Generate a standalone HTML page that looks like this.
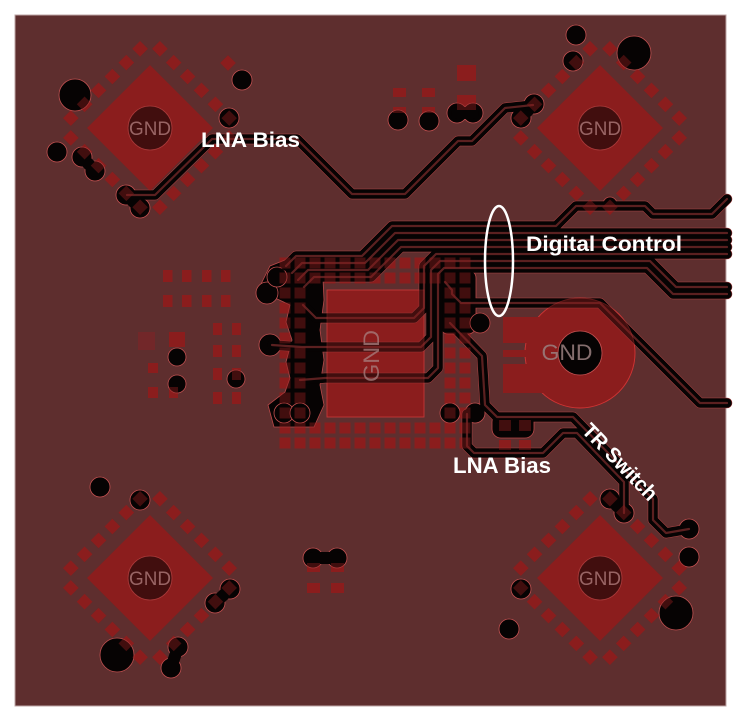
<!DOCTYPE html>
<html><head><meta charset="utf-8"><style>
html,body{margin:0;padding:0;background:#fff;}
svg{display:block;}
text{font-family:"Liberation Sans",Arial,sans-serif;}
</style></head><body>
<svg width="742" height="722" viewBox="0 0 742 722" xmlns="http://www.w3.org/2000/svg">
<defs>
<pattern id="grid" patternUnits="userSpaceOnUse" x="279.5" y="257.5" width="15" height="15"><rect width="11" height="11" fill="#8c1e1e"/></pattern>
<g id="qfn" transform="rotate(45)">
<rect x="-44.5" y="-44.5" width="89" height="89"/>
<rect x="-54.5" y="-68.5" width="11" height="11"/><rect x="-35" y="-68.5" width="11" height="11"/><rect x="-15.3" y="-68.5" width="11" height="11"/><rect x="4.3" y="-68.5" width="11" height="11"/><rect x="24" y="-68.5" width="11" height="11"/><rect x="43.5" y="-68.5" width="11" height="11"/>
<rect x="-54.5" y="57.5" width="11" height="11"/><rect x="-35" y="57.5" width="11" height="11"/><rect x="-15.3" y="57.5" width="11" height="11"/><rect x="4.3" y="57.5" width="11" height="11"/><rect x="24" y="57.5" width="11" height="11"/><rect x="43.5" y="57.5" width="11" height="11"/>
<rect y="-54.5" x="-68.5" width="11" height="11"/><rect y="-35" x="-68.5" width="11" height="11"/><rect y="-15.3" x="-68.5" width="11" height="11"/><rect y="4.3" x="-68.5" width="11" height="11"/><rect y="24" x="-68.5" width="11" height="11"/><rect y="43.5" x="-68.5" width="11" height="11"/>
<rect y="-54.5" x="57.5" width="11" height="11"/><rect y="-35" x="57.5" width="11" height="11"/><rect y="-15.3" x="57.5" width="11" height="11"/><rect y="4.3" x="57.5" width="11" height="11"/><rect y="24" x="57.5" width="11" height="11"/><rect y="43.5" x="57.5" width="11" height="11"/>
</g>
<g id="padsG" fill="#8c1e1e">
<use href="#qfn" transform="translate(150,128)"/>
<use href="#qfn" transform="translate(600,128)"/>
<use href="#qfn" transform="translate(150,578)"/>
<use href="#qfn" transform="translate(600,578)"/>
<rect x="-5.5" y="-5.5" width="11" height="11" transform="translate(228,63) rotate(45)"/>
<path d="M279.5,257.5h195v195h-195z M309.5,287.5h135v135h-135z" fill-rule="evenodd" fill="url(#grid)"/>
<rect x="327" y="290" width="97" height="127" stroke="#c83a3a" stroke-width="0.8"/>
<circle cx="580" cy="353" r="55" stroke="#d03535" stroke-width="0.9"/>
<rect x="503" y="317" width="60" height="26"/>
<rect x="503" y="364" width="60" height="29"/>
<rect x="503" y="350" width="32" height="7"/>
<rect x="163" y="270" width="9.5" height="12"/><rect x="182" y="270" width="9.5" height="12"/><rect x="202" y="270" width="9.5" height="12"/><rect x="221" y="270" width="9.5" height="12"/>
<rect x="163" y="295" width="9.5" height="12"/><rect x="182" y="295" width="9.5" height="12"/><rect x="202" y="295" width="9.5" height="12"/><rect x="221" y="295" width="9.5" height="12"/>
<rect x="138" y="332" width="17" height="18" fill="#72282a"/>
<rect x="169" y="332" width="16" height="15"/>
<rect x="148" y="363" width="10" height="10"/><rect x="148" y="387" width="10" height="11"/><rect x="169" y="387" width="9" height="11"/>
<rect x="213" y="323" width="9" height="12"/><rect x="232" y="323" width="9" height="12"/>
<rect x="213" y="345" width="9" height="12"/><rect x="232" y="345" width="9" height="12"/>
<rect x="213" y="368" width="9" height="12"/><rect x="232" y="368" width="9" height="12"/>
<rect x="213" y="392" width="9" height="12"/><rect x="232" y="392" width="9" height="12"/>
<rect x="393" y="88" width="13" height="9"/><rect x="422" y="88" width="13" height="9"/>
<rect x="393" y="107" width="13" height="6"/><rect x="422" y="107" width="13" height="6"/>
<rect x="457" y="65" width="19" height="16"/><rect x="457" y="95" width="19" height="15"/>
<rect x="307" y="563" width="13" height="9"/><rect x="331" y="563" width="13" height="9"/>
<rect x="307" y="583" width="13" height="10"/><rect x="331" y="583" width="13" height="10"/>
<rect x="499" y="420" width="12" height="11"/><rect x="519" y="420" width="12" height="11"/>
<rect x="499" y="440" width="12" height="10"/><rect x="519" y="440" width="12" height="10"/>
</g>
<g id="traces">
<path d="M127,195 L155,195 L212,139 L297,139 L352,194 L405,194 L458,141 L472,141 L505,108 L533,105"/>
<path d="M624,513 L624,482 L577,433 L563,433 L543,453 L474,453 L467,446 L467,414"/>
<path d="M450,323 L482,356 L485,405 L497,417 L573,417 L653,499 L653,520 L666,533 L689,529"/>
<path d="M445,282 L452,290 L452,294 L461,303 L600,303 L700,403 L727,403"/>
<path d="M286,266 L296,256 L362,256 L392,226 L556,226 L576,206 L645,206 L653,214 L712,214 L727,199"/>
<path d="M292,273 L302,263 L365,263 L395,233 L727,233"/>
<path d="M298,280 L308,270 L368,270 L398,240 L727,240"/>
<path d="M304,287 L314,277 L371,277 L401,247 L727,247"/>
<path d="M303,305 L316,318 L414,318 L424,308 L424,266 L436,254 L727,254"/>
<path d="M272,345 L302,347 L421,347 L431,337 L431,270 L440,261 L650,261 L676,287 L727,287"/>
<path d="M300,380 L325,378 L428,378 L438,368 L438,274 L444,268 L647,268 L673,294 L727,294"/>
</g>
</defs>

<rect x="15" y="15" width="711" height="691" fill="#5e2e2e" stroke="#bda5a5" stroke-width="1"/>

<use href="#padsG"/>

<use href="#traces" fill="none" stroke="#b04444" stroke-width="10.6" stroke-linejoin="round" stroke-linecap="round"/>

<g fill="#060303" stroke="#b84848" stroke-width="0.8">
<path d="M258,290 L270,266 L300,254 L322,258 L324,300 L320,330 L324,360 L320,385 L324,405 L314,427 L274,427 L268,405 L285,392 L290,378 L286,362 L292,340 L286,322 L290,305 Z"/>
<rect x="440" y="270" width="36" height="64" rx="8"/>
<circle cx="480" cy="323" r="10"/>
<rect x="492" y="413" width="42" height="25" rx="9"/>
<circle cx="610" cy="204" r="7"/>
</g>

<g fill="#060303" stroke="#c25050" stroke-width="0.8">
<circle cx="75" cy="95" r="16"/><circle cx="57" cy="152" r="10"/><circle cx="82" cy="157" r="10"/><circle cx="95" cy="171" r="10"/>
<circle cx="242" cy="80" r="10"/><circle cx="229" cy="118" r="10"/><circle cx="126" cy="195" r="10"/><circle cx="140" cy="208" r="10"/>
<circle cx="576" cy="35" r="10"/><circle cx="573" cy="61" r="10"/><circle cx="634" cy="53" r="17"/><circle cx="534" cy="104" r="10"/><circle cx="521" cy="118" r="10"/>
<circle cx="398" cy="120" r="10"/><circle cx="429" cy="121" r="10"/><circle cx="457" cy="113" r="10"/><circle cx="473" cy="113" r="10"/>
<circle cx="100" cy="487" r="10"/><circle cx="140" cy="500" r="10"/><circle cx="230" cy="589" r="10"/><circle cx="215" cy="603" r="10"/>
<circle cx="117" cy="655" r="17"/><circle cx="178" cy="647" r="10"/><circle cx="171" cy="668" r="10"/>
<circle cx="610" cy="499" r="10"/><circle cx="624" cy="513" r="10"/><circle cx="689" cy="529" r="10"/><circle cx="689" cy="557" r="10"/>
<circle cx="676" cy="613" r="17"/><circle cx="521" cy="589" r="10"/><circle cx="509" cy="629" r="10"/>
<circle cx="313" cy="558" r="10"/><circle cx="337" cy="558" r="10"/>
<circle cx="177" cy="357" r="9"/><circle cx="177" cy="384" r="9"/><circle cx="236" cy="379" r="9"/>
<circle cx="450" cy="413" r="10"/><circle cx="475" cy="413" r="10"/>
<circle cx="267" cy="293" r="11"/><circle cx="277" cy="277" r="10"/><circle cx="270" cy="345" r="11"/><circle cx="284" cy="413" r="10"/><circle cx="300" cy="413" r="10"/>
<circle cx="150" cy="128" r="22"/><circle cx="600" cy="128" r="22"/><circle cx="150" cy="578" r="22"/><circle cx="600" cy="578" r="22"/>
</g>
<g stroke="#060303" stroke-width="12" stroke-linecap="round">
<line x1="82" y1="157" x2="95" y2="171"/><line x1="126" y1="195" x2="140" y2="208"/>
<line x1="534" y1="104" x2="521" y2="118"/><line x1="457" y1="113" x2="473" y2="113"/>
<line x1="230" y1="589" x2="215" y2="603"/><line x1="178" y1="647" x2="171" y2="668"/>
<line x1="610" y1="499" x2="624" y2="513"/><line x1="313" y1="558" x2="337" y2="558"/>
</g>

<use href="#traces" fill="none" stroke="#060303" stroke-width="9.6" stroke-linejoin="round" stroke-linecap="round"/>
<use href="#traces" fill="none" stroke="#5b2020" stroke-width="2.2" stroke-linejoin="round" stroke-linecap="round"/>

<use href="#padsG" opacity="0.45"/>

<circle cx="580" cy="353" r="22" fill="#060303" stroke="#c25050" stroke-width="0.8"/>

<g fill="#a87474" opacity="0.85" font-size="19" text-anchor="middle">
<text x="150" y="135" textLength="42" lengthAdjust="spacingAndGlyphs">GND</text>
<text x="600" y="135" textLength="42" lengthAdjust="spacingAndGlyphs">GND</text>
<text x="150" y="585" textLength="42" lengthAdjust="spacingAndGlyphs">GND</text>
<text x="600" y="585" textLength="42" lengthAdjust="spacingAndGlyphs">GND</text>
</g>
<text x="567" y="360" font-size="22" text-anchor="middle" fill="#9a8080" opacity="0.85" textLength="51" lengthAdjust="spacingAndGlyphs">GND</text>
<text transform="translate(379,356) rotate(-90)" font-size="22" text-anchor="middle" fill="#a88080" opacity="0.75" textLength="52" lengthAdjust="spacingAndGlyphs">GND</text>

<g fill="#ffffff" font-weight="bold">
<text x="201" y="147" font-size="21" textLength="99" lengthAdjust="spacingAndGlyphs">LNA Bias</text>
<text x="526" y="251" font-size="21" textLength="156" lengthAdjust="spacingAndGlyphs">Digital Control</text>
<text x="453" y="473" font-size="22" textLength="98" lengthAdjust="spacingAndGlyphs">LNA Bias</text>
<text transform="translate(620,462) rotate(46)" text-anchor="middle" dy="7" font-size="21" textLength="98" lengthAdjust="spacingAndGlyphs">TR Switch</text>
</g>
<ellipse cx="499" cy="261" rx="14" ry="55" fill="none" stroke="#ffffff" stroke-width="2.5"/>
</svg>
</body></html>
